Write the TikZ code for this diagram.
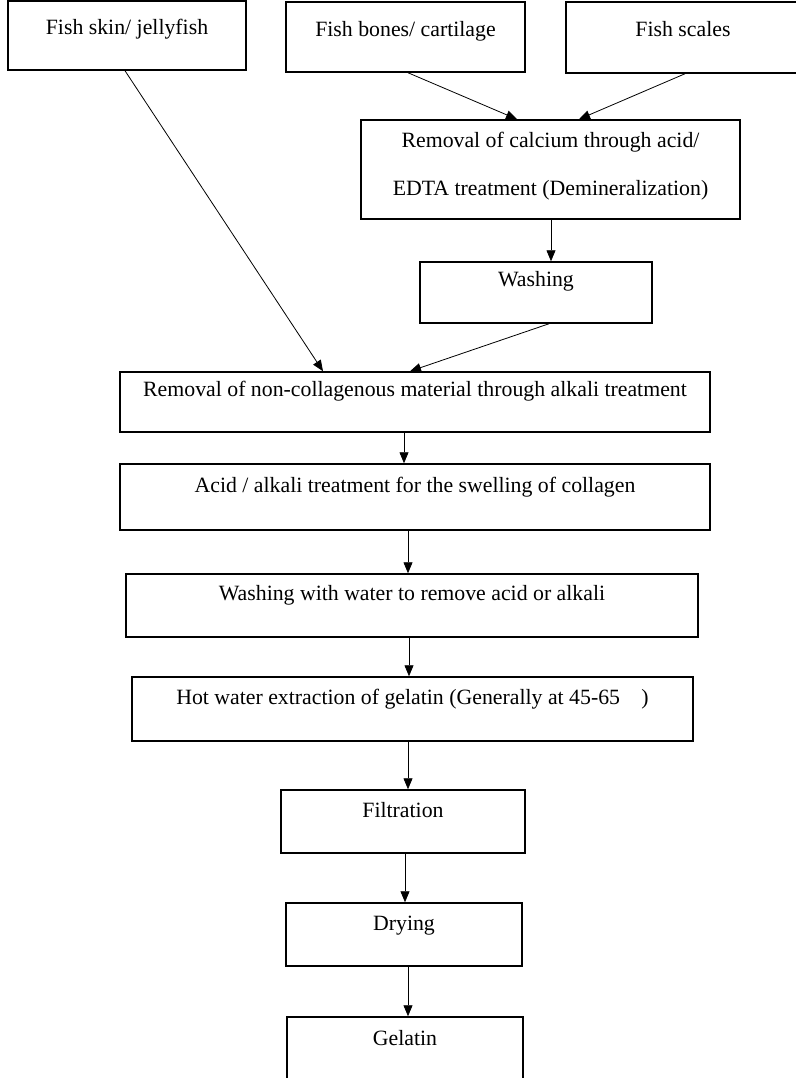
\documentclass[tikz,border=0pt]{standalone}
\usepackage{fontspec}
\setmainfont{Liberation Serif}
\usetikzlibrary{arrows.meta}

\tikzset{
  box/.style={draw, line width=1.5pt, inner sep=0pt, font=\fontsize{21.8}{26}\selectfont},
  arr/.style={line width=0.8pt, -{Triangle[length=11pt,width=9pt]}}
}

\begin{document}
\begin{tikzpicture}[x=1pt,y=-1pt]
\useasboundingbox (0,0) rectangle (795,1078);

% raw materials
\node[box, minimum width=238pt, text height=34pt, text depth=35pt] (skin) at (127,35.5) {Fish skin/ jellyfish};
\node[box, minimum width=239pt, text height=35pt, text depth=35pt] (bones) at (405.5,37) {Fish bones/ cartilage};
\node[box, minimum width=234pt, text height=35pt, text depth=36pt] (scales) at (683,37.5) {Fish scales};

% pre-treatment
\node[box, minimum width=379pt, text height=28pt, text depth=71pt] (demin) at (550.5,169.5)
  {\begin{tabular}[t]{@{}c@{}}Removal of calcium through acid/\\[22pt]EDTA treatment (Demineralization)\end{tabular}};
\node[box, minimum width=232pt, text height=24pt, text depth=37pt] (washing) at (536,292.5) {Washing};
\node[box, minimum width=590pt, text height=24pt, text depth=36pt] (alkali) at (415,402) {Removal of non-collagenous material through alkali treatment};
\node[box, minimum width=590pt, text height=28pt, text depth=38pt] (swell) at (415,497) {Acid / alkali treatment for the swelling of collagen};
\node[box, minimum width=572pt, text height=26pt, text depth=37pt] (rinse) at (412,605.5) {Washing with water to remove acid or alkali};

% extraction
\node[box, minimum width=561pt, text height=27pt, text depth=37pt] (hot) at (412.5,709) {Hot water extraction of gelatin (Generally at 45-65\hspace{16pt} )};
\node[box, minimum width=244pt, text height=27pt, text depth=36pt] (filt) at (403,821.5) {Filtration};
\node[box, minimum width=236pt, text height=27pt, text depth=36pt] (dry) at (404,934.5) {Drying};
\node[box, minimum width=236pt, text height=28pt, text depth=45pt] (gel) at (405,1053.5) {Gelatin};

\draw[arr] ([xshift=2.5pt]bones.south) -- ([xshift=-33.5pt]demin.north);
\draw[arr] ([xshift=2pt]scales.south) -- ([xshift=28.5pt]demin.north);
\draw[arr] ([xshift=0.5pt]demin.south) -- ([xshift=15pt]washing.north);
\draw[arr] ([xshift=-2pt]skin.south) -- ([xshift=-92pt]alkali.north);
\draw[arr] ([xshift=13pt]washing.south) -- ([xshift=-5pt]alkali.north);
\draw[arr] ([xshift=-11pt]alkali.south) -- ([xshift=-11pt]swell.north);
\draw[arr] ([xshift=-7pt]swell.south) -- ([xshift=-4pt]rinse.north);
\draw[arr] ([xshift=-3pt]rinse.south) -- ([xshift=-3.5pt]hot.north);
\draw[arr] ([xshift=-4.5pt]hot.south) -- ([xshift=5pt]filt.north);
\draw[arr] ([xshift=2pt]filt.south) -- ([xshift=1pt]dry.north);
\draw[arr] ([xshift=4pt]dry.south) -- ([xshift=3pt]gel.north);

\end{tikzpicture}
\end{document}
